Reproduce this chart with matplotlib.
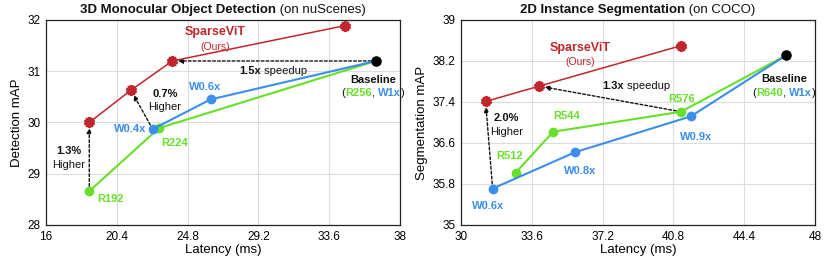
import matplotlib
matplotlib.use("Agg")
import matplotlib.pyplot as plt

plt.rcParams['font.family'] = ['Liberation Sans', 'DejaVu Sans']

RED = '#c0262b'
GREEN = '#66e02a'
BLUE = '#3b8eea'
INK = '#111111'

# Left: 3D detection
det_sparse_x = [18.69, 21.28, 23.85, 34.58]
det_sparse_y = [30.0, 30.63, 31.2, 31.89]
det_width_x = [22.63, 26.23, 36.5]
det_width_y = [29.87, 30.45, 31.2]
det_res_x = [18.69, 23.02, 36.5]
det_res_y = [28.66, 29.89, 31.2]
det_base = (36.5, 31.2)
det_xticks = [16, 20.4, 24.8, 29.2, 33.6, 38]
det_yticks = [28, 29, 30, 31, 32]

# Right: 2D segmentation
seg_sparse_x = [31.25, 33.98, 41.2]
seg_sparse_y = [37.41, 37.71, 38.5]
seg_width_x = [31.61, 35.8, 41.69, 46.53]
seg_width_y = [35.71, 36.42, 37.12, 38.31]
seg_res_x = [32.78, 34.69, 41.19, 46.53]
seg_res_y = [36.02, 36.82, 37.21, 38.31]
seg_base = (46.53, 38.31)
seg_xticks = [30, 33.6, 37.2, 40.8, 44.4, 48]
seg_yticks = [35, 35.8, 36.6, 37.4, 38.2, 39]

fig = plt.figure(figsize=(8.3, 2.59), dpi=100)
ax1 = fig.add_axes([0.0554, 0.1313, 0.4265, 0.7915])
ax2 = fig.add_axes([0.5554, 0.1313, 0.4265, 0.7915])

STAR = (10, 1, 0)


def style(ax, xt, yt, ylabel):
    ax.set_xlim(xt[0], xt[-1])
    ax.set_ylim(yt[0], yt[-1])
    ax.set_xticks(xt)
    ax.set_yticks(yt)
    ax.set_xticklabels([('%g' % v) for v in xt])
    ax.set_yticklabels([('%g' % v) for v in yt])
    ax.grid(True, color='#dcdcdc', lw=0.8)
    ax.set_axisbelow(True)
    ax.tick_params(length=0, labelsize=8.5, pad=4)
    for s in ax.spines.values():
        s.set_color('#222222')
        s.set_linewidth(0.9)
    ax.set_xlabel('Latency (ms)', fontsize=9.5, labelpad=1)
    ax.set_ylabel(ylabel, fontsize=9.5, labelpad=3)


def arrow(ax, x0, y0, x1, y1):
    ax.annotate('', xy=(x1, y1), xytext=(x0, y0),
                arrowprops=dict(arrowstyle='-|>', linestyle=(0, (2, 1.5)), color=INK,
                                lw=1.0, mutation_scale=7, shrinkA=0, shrinkB=4))


centered = []


def ctext(ax, x, y, parts, fs=8, coords='data'):
    """parts: list of (text, color, weight); row centered at (x, y)."""
    tr = ax.transData if coords == 'data' else ax.transAxes
    first = ax.text(x, y, parts[0][0], color=parts[0][1], fontweight=parts[0][2],
                    fontsize=fs, ha='left', va='bottom', transform=tr)
    objs = [first]
    prev = first
    for t, c, w in parts[1:]:
        o = ax.annotate(t, xy=(1, 0), xycoords=prev, ha='left', va='bottom',
                        fontsize=fs, color=c, fontweight=w)
        objs.append(o)
        prev = o
    centered.append((ax, objs, x, y, tr, coords))


def finish_centering():
    fig.canvas.draw()
    r = fig.canvas.get_renderer()
    for ax, objs, x, y, tr, coords in centered:
        w = sum(o.get_window_extent(r).width for o in objs)
        h = objs[0].get_window_extent(r).height
        px, py = tr.transform((x, y))
        px -= w / 2
        if coords == 'data':
            py -= h / 2
        nx, ny = tr.inverted().transform((px, py))
        objs[0].set_position((nx, ny))


# ---- left
ax = ax1
style(ax, det_xticks, det_yticks, 'Detection mAP')
arrow(ax, det_res_x[0], det_res_y[0], det_sparse_x[0], det_sparse_y[0])
arrow(ax, det_width_x[0], det_width_y[0], det_sparse_x[1], det_sparse_y[1])
arrow(ax, det_base[0], det_base[1], det_sparse_x[2], det_sparse_y[2])
ax.plot(det_res_x, det_res_y, color=GREEN, lw=1.5, marker='o', ms=6, zorder=3)
ax.plot(det_width_x, det_width_y, color=BLUE, lw=1.5, marker='o', ms=6, zorder=3)
ax.plot(det_sparse_x, det_sparse_y, color=RED, lw=1.1, marker=STAR, ms=7.5, mew=1.6, zorder=4)
ax.plot([det_base[0]], [det_base[1]], 'o', color='black', ms=6.5, zorder=5)

ax.text(26.5, 31.76, 'SparseViT', color=RED, fontsize=9, fontweight='bold', ha='center', va='center')
ax.text(26.5, 31.48, '(Ours)', color=RED, fontsize=7.5, ha='center', va='center')
ctext(ax, 30.1, 31.01, [('1.5x', INK, 'bold'), (' speedup', INK, 'normal')])
ax.text(36.34, 30.83, 'Baseline', fontsize=8, fontweight='bold', ha='center', va='center', color=INK)
ctext(ax, 36.34, 30.57, [('(', INK, 'normal'), ('R256', GREEN, 'bold'), (', ', INK, 'normal'),
                         ('W1x', BLUE, 'bold'), (')', INK, 'normal')])

ax.text(25.92, 30.7, 'W0.6x', color=BLUE, fontsize=8, fontweight='bold', ha='center', va='center')
ax.text(23.4, 30.55, '0.7%', fontsize=8, fontweight='bold', ha='center', va='center', color=INK)
ax.text(23.4, 30.31, 'Higher', fontsize=8, ha='center', va='center', color=INK)
ax.text(22.26, 29.87, 'W0.4x', color=BLUE, fontsize=8, fontweight='bold', ha='right', va='center')
ax.text(23.97, 29.6, 'R224', color=GREEN, fontsize=8, fontweight='bold', ha='center', va='center')
ax.text(17.39, 29.44, '1.3%', fontsize=8, fontweight='bold', ha='center', va='center', color=INK)
ax.text(17.39, 29.18, 'Higher', fontsize=8, ha='center', va='center', color=INK)
ax.text(20.04, 28.5, 'R192', color=GREEN, fontsize=8, fontweight='bold', ha='center', va='center')

# ---- right
ax = ax2
style(ax, seg_xticks, seg_yticks, 'Segmentation mAP')
arrow(ax, seg_width_x[0], seg_width_y[0], seg_sparse_x[0], seg_sparse_y[0])
arrow(ax, seg_res_x[2], seg_res_y[2], seg_sparse_x[1], seg_sparse_y[1])
ax.plot(seg_res_x, seg_res_y, color=GREEN, lw=1.5, marker='o', ms=6, zorder=3)
ax.plot(seg_width_x, seg_width_y, color=BLUE, lw=1.5, marker='o', ms=6, zorder=3)
ax.plot(seg_sparse_x, seg_sparse_y, color=RED, lw=1.1, marker=STAR, ms=7.5, mew=1.6, zorder=4)
ax.plot([seg_base[0]], [seg_base[1]], 'o', color='black', ms=6.5, zorder=5)

ax.text(36.08, 38.45, 'SparseViT', color=RED, fontsize=9, fontweight='bold', ha='center', va='center')
ax.text(36.08, 38.19, '(Ours)', color=RED, fontsize=7.5, ha='center', va='center')
ctext(ax, 38.9, 37.71, [('1.3x', INK, 'bold'), (' speedup', INK, 'normal')])
ax.text(46.42, 37.84, 'Baseline', fontsize=8, fontweight='bold', ha='center', va='center', color=INK)
ctext(ax, 46.42, 37.57, [('(', INK, 'normal'), ('R640', GREEN, 'bold'), (', ', INK, 'normal'),
                         ('W1x', BLUE, 'bold'), (')', INK, 'normal')])

ax.text(41.22, 37.45, 'R576', color=GREEN, fontsize=8, fontweight='bold', ha='center', va='center')
ax.text(41.98, 36.72, 'W0.9x', color=BLUE, fontsize=8, fontweight='bold', ha='center', va='center')
ax.text(35.37, 37.12, 'R544', color=GREEN, fontsize=8, fontweight='bold', ha='center', va='center')
ax.text(32.32, 37.08, '2.0%', fontsize=8, fontweight='bold', ha='center', va='center', color=INK)
ax.text(32.32, 36.82, 'Higher', fontsize=8, ha='center', va='center', color=INK)
ax.text(32.46, 36.35, 'R512', color=GREEN, fontsize=8, fontweight='bold', ha='center', va='center')
ax.text(36.08, 36.06, 'W0.8x', color=BLUE, fontsize=8, fontweight='bold', ha='center', va='center')
ax.text(31.39, 35.38, 'W0.6x', color=BLUE, fontsize=8, fontweight='bold', ha='center', va='center')

# titles
ctext(ax1, 0.5, 1.02, [('3D Monocular Object Detection', INK, 'bold'), (' (on nuScenes)', INK, 'normal')],
      fs=9.5, coords='axes')
ctext(ax2, 0.5, 1.02, [('2D Instance Segmentation', INK, 'bold'), (' (on COCO)', INK, 'normal')],
      fs=9.5, coords='axes')

finish_centering()

fig.savefig('out.png', dpi=100)
